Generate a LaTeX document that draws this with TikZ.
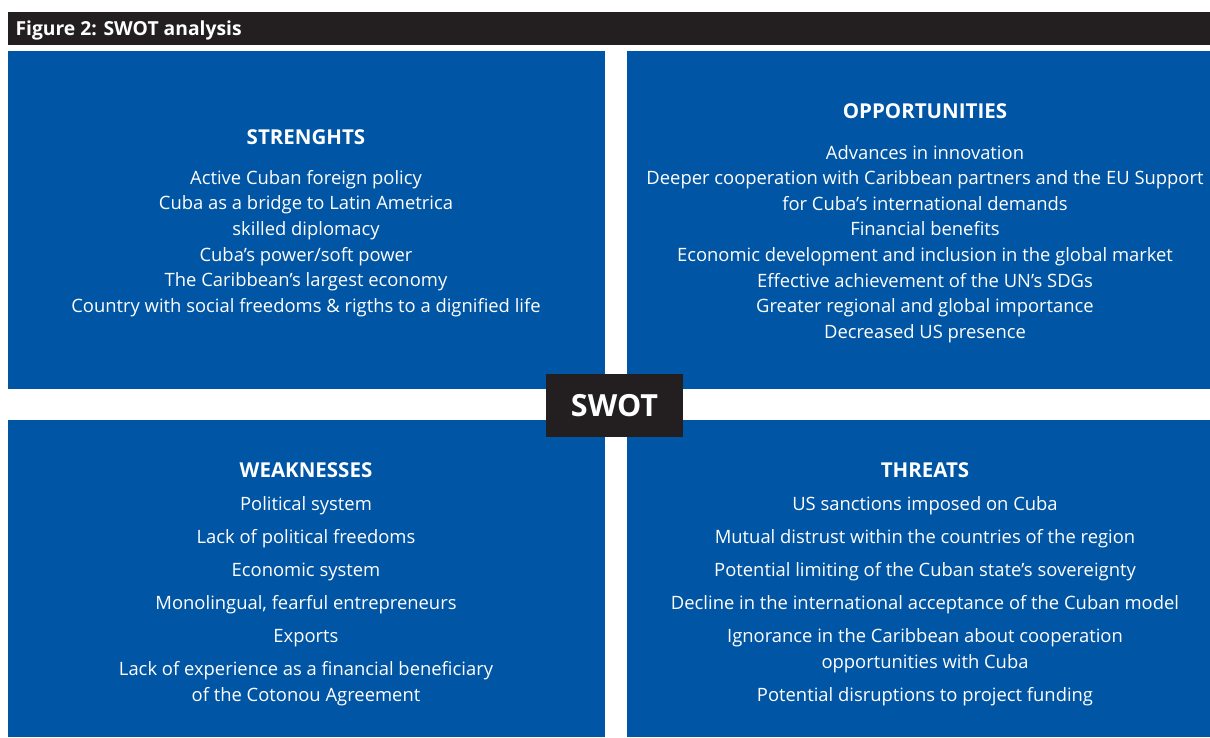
\documentclass[tikz,border=0pt]{standalone}
\usepackage{fontspec}
\setmainfont{Open Sans}
\usetikzlibrary{positioning}
\definecolor{swotblue}{RGB}{0,85,164}
\definecolor{swotdark}{RGB}{35,31,32}

\begin{document}
\begin{tikzpicture}[x=1pt, y=-1pt,
  quad/.style={rectangle, fill=swotblue, inner sep=0pt, outer sep=0pt, anchor=north west},
  heading/.style={text=white, font=\fontsize{20.5}{24}\selectfont\bfseries},
  body/.style={text=white, align=center, font=\fontsize{18.4}{25.6}\selectfont}]
\useasboundingbox (0,0) rectangle (1210,738);
% title bar
\node[rectangle, fill=swotdark, inner sep=0pt, minimum width=1202pt, minimum height=33pt, anchor=north west] (bar) at (8,12) {};
\node[text=white, font=\fontsize{19.3}{22}\selectfont\bfseries, anchor=west] (figtitle) at (12,30) {Figure 2: SWOT analysis};
% the four fields
\node[quad, minimum width=597pt, minimum height=338pt] (str) at (8,51) {};
\node[quad, minimum width=583pt, minimum height=338pt] (opp) at (627,51) {};
\node[quad, minimum width=597pt, minimum height=317pt] (wea) at (8,420) {};
\node[quad, minimum width=583pt, minimum height=317pt] (thr) at (627,420) {};
% headings
\node[heading] (strhead) at (306,137.5) {STRENGHTS};
\node[heading] (opphead) at (925,111.5) {OPPORTUNITIES};
\node[heading] (weahead) at (306,470.5) {WEAKNESSES};
\node[heading] (thrhead) at (925,470.5) {THREATS};
% texts
\node[body] (strtext) at (306,243.5) {Active Cuban foreign policy\\
  Cuba as a bridge to Latin Ametrica\\
  skilled diplomacy\\
  Cuba's power/soft power\\
  The Caribbean's largest economy\\
  Country with social freedoms \& rigths to a dignified life};
\node[body] (opptext) at (925,244) {Advances in innovation\\
  Deeper cooperation with Caribbean partners and the EU Support\\
  for Cuba's international demands\\
  Financial benefits\\
  Economic development and inclusion in the global market\\
  Effective achievement of the UN's SDGs\\
  Greater regional and global importance\\
  Decreased US presence};
\node[body] (weatext) at (306,601) {Political system\\[7.4pt]
  Lack of political freedoms\\[7.4pt]
  Economic system\\[7.4pt]
  Monolingual, fearful entrepreneurs\\[7.4pt]
  Exports\\[7.4pt]
  Lack of experience as a financial beneficiary\\
  of the Cotonou Agreement};
\node[body] (thrtext) at (925,601) {US sanctions imposed on Cuba\\[7.4pt]
  Mutual distrust within the countries of the region\\[7.4pt]
  Potential limiting of the Cuban state's sovereignty\\[7.4pt]
  Decline in the international acceptance of the Cuban model\\[7.4pt]
  Ignorance in the Caribbean about cooperation\\
  opportunities with Cuba\\[7.4pt]
  Potential disruptions to project funding};
% centre label
\node[rectangle, fill=swotdark, text=white, minimum width=137pt, minimum height=63pt, inner sep=0pt, font=\fontsize{30.5}{34}\selectfont\bfseries] (swot) at (614.5,405.5) {SWOT};
\end{tikzpicture}
\end{document}
